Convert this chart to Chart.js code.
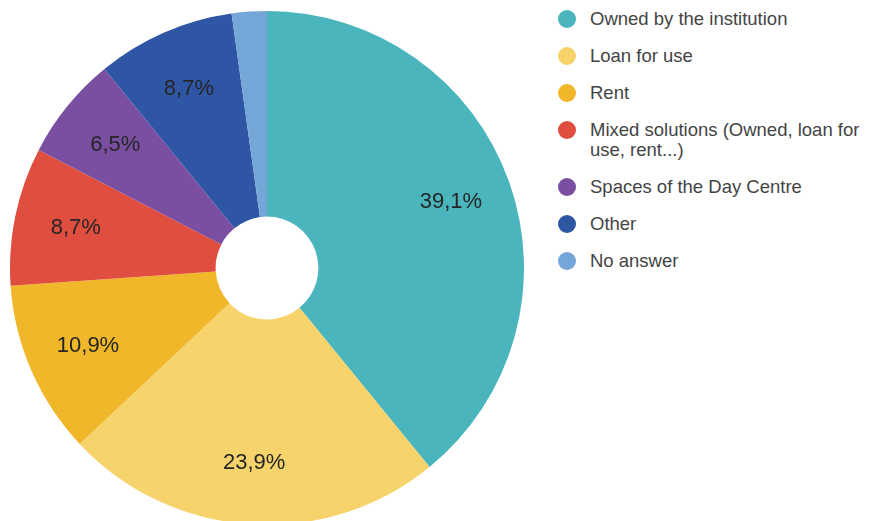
<!DOCTYPE html>
<html>
<head>
<meta charset="utf-8">
<script src="https://cdn.jsdelivr.net/npm/chart.js@4/dist/chart.umd.min.js"></script>
<style>
    html, body {
        margin: 0;
        padding: 0;
        width: 869px;
        height: 521px;
        overflow: hidden;
        background: #fff;
        font-family: "Liberation Sans", Arial, sans-serif;
    }
    #pie-wrap {
        position: absolute;
        left: 10px;
        top: 11px;
        width: 514px;
        height: 514px;
    }
    #legend {
        position: absolute;
        left: 558px;
        top: 9px;
        width: 308px;
        list-style: none;
        margin: 0;
        padding: 0;
        color: #444;
        font-size: 18.5px;
        line-height: 20px;
    }
    #legend li {
        position: relative;
        padding-left: 32px;
        margin-bottom: 17px;
    }
    #legend .dot {
        position: absolute;
        left: 0;
        top: 1px;
        width: 18px;
        height: 18px;
        border-radius: 50%;
    }
</style>
</head>
<body>
<div id="pie-wrap"><canvas id="spacesChart" width="514" height="514"></canvas></div>
<ul id="legend"></ul>

<script>
const categories = [
    "Owned by the institution",
    "Loan for use",
    "Rent",
    "Mixed solutions (Owned, loan for use, rent...)",
    "Spaces of the Day Centre",
    "Other",
    "No answer"
];
const shares = [39.1, 23.9, 10.9, 8.7, 6.5, 8.7, 2.2];
const sliceColors = ["#4bb5be", "#f6d36b", "#f0b72b", "#e04e3f", "#7a4ea0", "#2f55a5", "#74a6d8"];

// legend on the right, one row per category
const legend = document.getElementById("legend");
categories.forEach((name, i) => {
    const li = document.createElement("li");
    li.innerHTML = `<span class="dot" style="background:${sliceColors[i]}"></span>${name}`;
    legend.appendChild(li);
});

// writes "39,1%" style labels inside each slice
const sliceLabels = {
    id: "sliceLabels",
    afterDatasetsDraw(chart) {
        const ctx = chart.ctx;
        const meta = chart.getDatasetMeta(0);
        ctx.save();
        ctx.font = "22px 'Liberation Sans', Arial, sans-serif";
        ctx.fillStyle = "#252525";
        ctx.textAlign = "center";
        ctx.textBaseline = "middle";
        meta.data.forEach((arc, i) => {
            const value = shares[i];
            if (value < 5) return;
            const mid = (arc.startAngle + arc.endAngle) / 2;
            const r = arc.outerRadius * 0.76;
            const x = arc.x + Math.cos(mid) * r;
            const y = arc.y + Math.sin(mid) * r;
            ctx.fillText(value.toFixed(1).replace(".", ",") + "%", x, y);
        });
        ctx.restore();
    }
};

const ctx = document.getElementById("spacesChart").getContext("2d");
new Chart(ctx, {
    type: "doughnut",
    data: {
        labels: categories,
        datasets: [{
            data: shares,
            backgroundColor: sliceColors,
            borderWidth: 0
        }]
    },
    options: {
        responsive: false,
        animation: false,
        cutout: "20%",
        layout: { padding: 0 },
        plugins: {
            legend: { display: false },
            tooltip: { enabled: false }
        }
    },
    plugins: [sliceLabels]
});
</script>
</body>
</html>
